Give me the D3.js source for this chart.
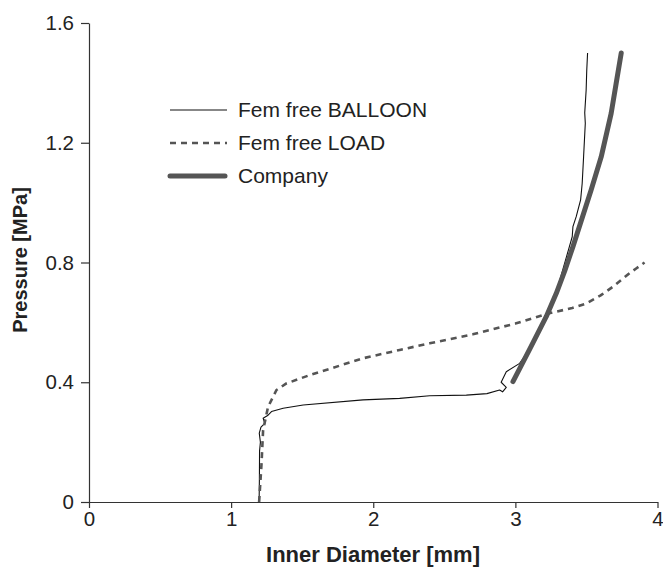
<!DOCTYPE html>
<html>
<head>
<meta charset="utf-8">
<script src="https://cdn.jsdelivr.net/npm/d3@7"></script>
<style>
  body { margin: 0; background: #fff; }
  svg { font-family: "Liberation Sans", Arial, sans-serif; }
  .axis path, .axis line { stroke: #333; stroke-width: 1.2; }
  .axis text { font-size: 20.5px; fill: #222; }
  .title { font-size: 20px; font-weight: bold; fill: #222; }
  .legend text { font-size: 21px; fill: #222; }
</style>
</head>
<body>
<div id="chart"></div>
<script>
(function () {
  const margin = {top: 23, right: 5, bottom: 66, left: 89};
  const width = 663 - margin.left - margin.right;
  const height = 568 - margin.top - margin.bottom;

  const xTicks = [0, 1, 2, 3, 4];
  const yTicks = [0, 0.4, 0.8, 1.2, 1.6];

  // Fem free BALLOON: [inner diameter mm, pressure MPa]
  const balloon = [
    [1.197, 0], [1.199, 0.08], [1.2, 0.17], [1.206, 0.2], [1.198, 0.23], [1.21, 0.25],
    [1.237, 0.263], [1.225, 0.28], [1.26, 0.29], [1.284, 0.302], [1.366, 0.313],
    [1.507, 0.324], [1.928, 0.341], [2.186, 0.346], [2.397, 0.355], [2.655, 0.357],
    [2.80, 0.362], [2.889, 0.374], [2.91, 0.368], [2.936, 0.383], [2.90, 0.40],
    [2.936, 0.435], [3.03, 0.463], [3.1, 0.51], [3.2, 0.61], [3.3, 0.72],
    [3.38, 0.853], [3.40, 0.886], [3.405, 0.92], [3.428, 0.953], [3.459, 1.009],
    [3.47, 1.064], [3.48, 1.153], [3.492, 1.265], [3.488, 1.30], [3.498, 1.376],
    [3.502, 1.44], [3.508, 1.5]
  ];

  // Fem free LOAD
  const load = [
    [1.197, 0], [1.205, 0.06], [1.214, 0.129], [1.22, 0.19], [1.225, 0.24],
    [1.26, 0.318], [1.319, 0.374], [1.389, 0.396], [1.554, 0.424], [1.928, 0.48],
    [2.186, 0.508], [2.397, 0.53], [2.7, 0.56], [3.0, 0.596], [3.217, 0.628],
    [3.4, 0.648], [3.498, 0.663], [3.6, 0.69], [3.686, 0.719], [3.803, 0.764],
    [3.85, 0.78], [3.909, 0.8]
  ];

  // Company
  const company = [
    [2.983, 0.402], [3.1, 0.51], [3.217, 0.619], [3.288, 0.697], [3.346, 0.77],
    [3.405, 0.853], [3.533, 1.042], [3.604, 1.153], [3.674, 1.298], [3.709, 1.398],
    [3.745, 1.5]
  ];

  const series = [
    {name: 'Fem free BALLOON', data: balloon, color: '#111', width: 1.1, dash: null},
    {name: 'Fem free LOAD', data: load, color: '#555', width: 2.6, dash: '6,5'},
    {name: 'Company', data: company, color: '#555', width: 5, dash: null}
  ];

  const svg = d3.select('#chart').append('svg')
    .attr('width', width + margin.left + margin.right)
    .attr('height', height + margin.top + margin.bottom);

  const g = svg.append('g')
    .attr('transform', 'translate(' + margin.left + ',' + margin.top + ')');

  const x = d3.scaleLinear().domain([0, 4]).range([0, width - 0.5]);
  const y = d3.scaleLinear().domain([0, 1.6]).range([height, 0]);

  g.append('g')
    .attr('class', 'axis')
    .attr('transform', 'translate(0,' + height + ')')
    .call(d3.axisBottom(x).tickValues(xTicks).tickSize(6).tickSizeOuter(0).tickPadding(3).tickFormat(d3.format('d')));

  g.append('g')
    .attr('class', 'axis')
    .call(d3.axisLeft(y).tickValues(yTicks).tickSize(8).tickSizeOuter(0).tickPadding(7).tickFormat(d => d === 0 ? '0' : d3.format('.1f')(d)));

  const line = d3.line()
    .x(d => x(d[0]))
    .y(d => y(d[1]));

  series.forEach(function (s) {
    g.append('path')
      .attr('d', line(s.data))
      .attr('fill', 'none')
      .attr('stroke', s.color)
      .attr('stroke-width', s.width)
      .attr('stroke-linecap', s.width > 3 ? 'round' : 'butt')
      .attr('stroke-linejoin', 'round')
      .attr('stroke-dasharray', s.dash);
  });

  // legend
  const legend = g.append('g')
    .attr('class', 'legend')
    .attr('transform', 'translate(81,87)');

  series.forEach(function (s, i) {
    const row = legend.append('g').attr('transform', 'translate(0,' + (i * 33) + ')');
    row.append('line')
      .attr('x1', 0).attr('x2', s.width > 3 ? 55 : 57)
      .attr('stroke', s.color)
      .attr('stroke-width', s.width)
      .attr('stroke-linecap', s.width > 3 ? 'round' : 'butt')
      .attr('stroke-dasharray', s.dash);
    row.append('text')
      .attr('x', 68)
      .attr('dy', '0.35em')
      .text(s.name);
  });

  svg.append('text')
    .attr('class', 'title')
    .attr('text-anchor', 'middle')
    .attr('x', 373)
    .attr('y', 562)
    .style('font-size', '22px')
    .text('Inner Diameter [mm]');

  svg.append('text')
    .attr('class', 'title')
    .attr('text-anchor', 'middle')
    .attr('dy', '0.35em')
    .attr('transform', 'translate(20,260) rotate(-90)')
    .text('Pressure [MPa]');
})();
</script>
</body>
</html>
